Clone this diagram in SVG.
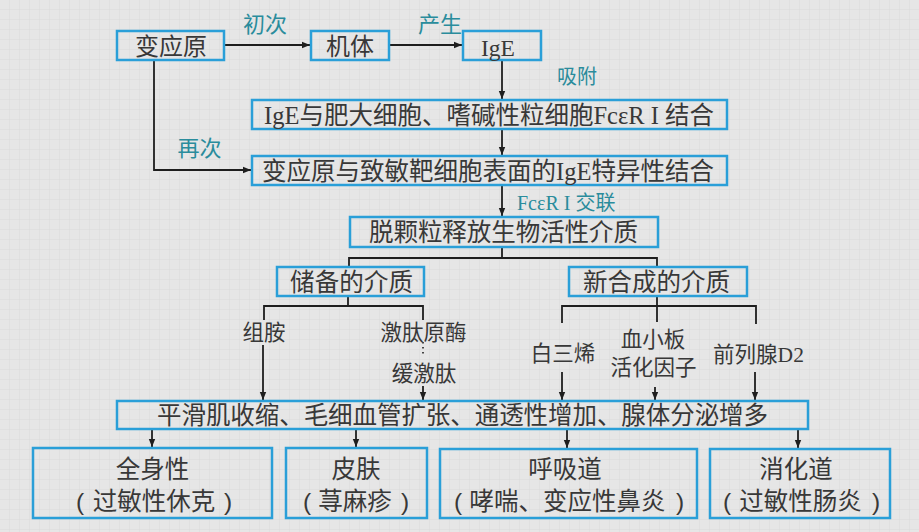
<svg xmlns="http://www.w3.org/2000/svg" width="919" height="532" viewBox="0 0 919 532">
  <defs>
    <pattern id="grid" width="10" height="10" patternUnits="userSpaceOnUse">
      <path d="M10,0 V10 M0,10 H10" fill="none" stroke="#dadada" stroke-width="1"/>
    </pattern>
    <marker id="ah" viewBox="0 0 10 10" refX="10" refY="5" markerWidth="8" markerHeight="8" markerUnits="userSpaceOnUse" orient="auto">
      <path d="M0,1 L10,5 L0,9 z" fill="#1e1e1e"/>
    </marker>
    <style>
      .box { fill: none; stroke: #2a9fd8; stroke-width: 2.5; }
      .t { font-family: "Liberation Sans", "Noto Sans CJK SC", sans-serif; fill: #383838; }
      .lat { font-family: "Liberation Serif", "Noto Sans CJK SC", serif; }
      .lbl { font-family: "Liberation Sans", "Noto Sans CJK SC", sans-serif; fill: #2a8c9c; }
      .sub { font-size: 24.5px; text-anchor: middle; }
      .conn path { fill: none; stroke: #1e1e1e; stroke-width: 1.8; }
      .conn .arr { marker-end: url(#ah); }
      .conn .dot { stroke-width: 1.6; stroke-dasharray: 1.5 3.5; }
    </style>
  </defs>

  <!-- paper background -->
  <rect width="919" height="532" fill="#e6e6e6"/>
  <rect width="919" height="532" fill="url(#grid)"/>

  <!-- connectors -->
  <g id="connectors" class="conn">
    <path class="arr" d="M224,45 H310"/>
    <path class="arr" d="M389,45 H462"/>
    <path class="arr" d="M502,60 V99"/>
    <path class="arr" d="M502,129 V155"/>
    <path class="arr" d="M154,60 V170 H251"/>
    <path class="arr" d="M502,185 V216"/>
    <path d="M502,247 V258 M349,267 V258 H657 V267"/>
    <path d="M348,296 V306 M264,320 V306 H423 V320"/>
    <path class="dot" d="M423,342 V357"/>
    <path d="M657,296 V322 M562,323 V306 H756 V324"/>
    <path class="arr" d="M263,345 V400"/>
    <path class="arr" d="M423,386 V400"/>
    <path class="arr" d="M562,372 V400"/>
    <path class="arr" d="M655,387 V400"/>
    <path class="arr" d="M755,372 V400"/>
    <path class="arr" d="M152,429 V447"/>
    <path class="arr" d="M356,429 V447"/>
    <path class="arr" d="M567,429 V448"/>
    <path class="arr" d="M798,429 V448"/>
  </g>

  <!-- edge labels -->
  <g id="labels">
    <text class="lbl" x="265" y="32" font-size="22" text-anchor="middle">初次</text>
    <text class="lbl" x="440" y="32" font-size="22" text-anchor="middle">产生</text>
    <text class="lbl" x="577" y="84" font-size="20" text-anchor="middle">吸附</text>
    <text class="lbl" x="199.5" y="156" font-size="22" text-anchor="middle">再次</text>
    <text class="lbl" x="517" y="209.5" font-size="20"><tspan class="lat">FcεR I </tspan>交联</text>
  </g>

  <!-- nodes -->
  <g id="n-allergen">
    <rect class="box" x="117" y="31" width="107" height="29"/>
    <text class="t" x="171" y="54.5" font-size="24" text-anchor="middle">变应原</text>
  </g>
  <g id="n-body">
    <rect class="box" x="311" y="31" width="78" height="29"/>
    <text class="t" x="350" y="54.5" font-size="24" text-anchor="middle">机体</text>
  </g>
  <g id="n-ige">
    <rect class="box" x="463" y="31" width="78" height="29"/>
    <text class="t lat" x="498" y="56" font-size="23.5" text-anchor="middle">IgE</text>
  </g>
  <g id="n-bind">
    <rect class="box" x="252" y="100" width="475" height="29"/>
    <text class="t" x="264" y="123.5" font-size="24.5" textLength="450" lengthAdjust="spacing"><tspan class="lat">IgE</tspan>与肥大细胞、嗜碱性粒细胞<tspan class="lat">FcεR I </tspan>结合</text>
  </g>
  <g id="n-specific">
    <rect class="box" x="252" y="156" width="475" height="29"/>
    <text class="t" x="262" y="179.5" font-size="24.5" textLength="452" lengthAdjust="spacing">变应原与致敏靶细胞表面的<tspan class="lat">IgE</tspan>特异性结合</text>
  </g>
  <g id="n-degranulation">
    <rect class="box" x="350" y="217" width="308" height="30"/>
    <text class="t" x="369" y="241" font-size="24.5" textLength="269" lengthAdjust="spacing">脱颗粒释放生物活性介质</text>
  </g>
  <g id="n-stored">
    <rect class="box" x="277" y="267" width="147" height="29"/>
    <text class="t" x="290" y="290.5" font-size="24.5" textLength="123" lengthAdjust="spacing">储备的介质</text>
  </g>
  <g id="n-new">
    <rect class="box" x="569" y="267" width="178" height="29"/>
    <text class="t" x="583" y="290.5" font-size="24.5" textLength="147" lengthAdjust="spacing">新合成的介质</text>
  </g>

  <g id="n-histamine">
    <text class="t" x="264" y="340" font-size="21.5" text-anchor="middle">组胺</text>
  </g>
  <g id="n-kininogenase">
    <text class="t" x="423.5" y="340" font-size="21.5" text-anchor="middle">激肽原酶</text>
    <text class="t" x="424" y="381" font-size="21.5" text-anchor="middle">缓激肽</text>
  </g>
  <g id="n-leukotriene">
    <text class="t" x="563" y="361" font-size="21.5" text-anchor="middle">白三烯</text>
  </g>
  <g id="n-paf">
    <text class="t" x="653" y="347" font-size="21.5" text-anchor="middle">血小板</text>
    <text class="t" x="653.5" y="375" font-size="21.5" text-anchor="middle">活化因子</text>
  </g>
  <g id="n-pgd2">
    <text class="t" x="758.5" y="362" font-size="21.5" text-anchor="middle">前列腺<tspan class="lat">D2</tspan></text>
  </g>

  <g id="n-effects">
    <rect class="box" x="117" y="401" width="691" height="28"/>
    <text class="t" x="157" y="424" font-size="24.5" textLength="611" lengthAdjust="spacing">平滑肌收缩、毛细血管扩张、通透性增加、腺体分泌增多</text>
  </g>

  <!-- outcome boxes: title line, then the example in brackets -->
  <g id="n-systemic">
    <rect class="box" x="33" y="448" width="239" height="70"/>
    <text class="t sub" x="152.5" y="478">全身性</text>
    <text class="t sub" y="510"><tspan x="80">(</tspan><tspan x="154">过敏性休克</tspan><tspan x="228">)</tspan></text>
  </g>
  <g id="n-skin">
    <rect class="box" x="286" y="448" width="141" height="70"/>
    <text class="t sub" x="356" y="478">皮肤</text>
    <text class="t sub" y="510"><tspan x="307">(</tspan><tspan x="355">荨麻疹</tspan><tspan x="405">)</tspan></text>
  </g>
  <g id="n-respiratory">
    <rect class="box" x="440" y="449" width="257" height="69"/>
    <text class="t sub" x="565" y="478">呼吸道</text>
    <text class="t sub" y="510"><tspan x="458">(</tspan><tspan x="567.5">哮喘、变应性鼻炎</tspan><tspan x="680">)</tspan></text>
  </g>
  <g id="n-digestive">
    <rect class="box" x="710" y="449" width="180" height="69"/>
    <text class="t sub" x="796" y="478">消化道</text>
    <text class="t sub" y="510"><tspan x="727">(</tspan><tspan x="800.5">过敏性肠炎</tspan><tspan x="876">)</tspan></text>
  </g>
</svg>
